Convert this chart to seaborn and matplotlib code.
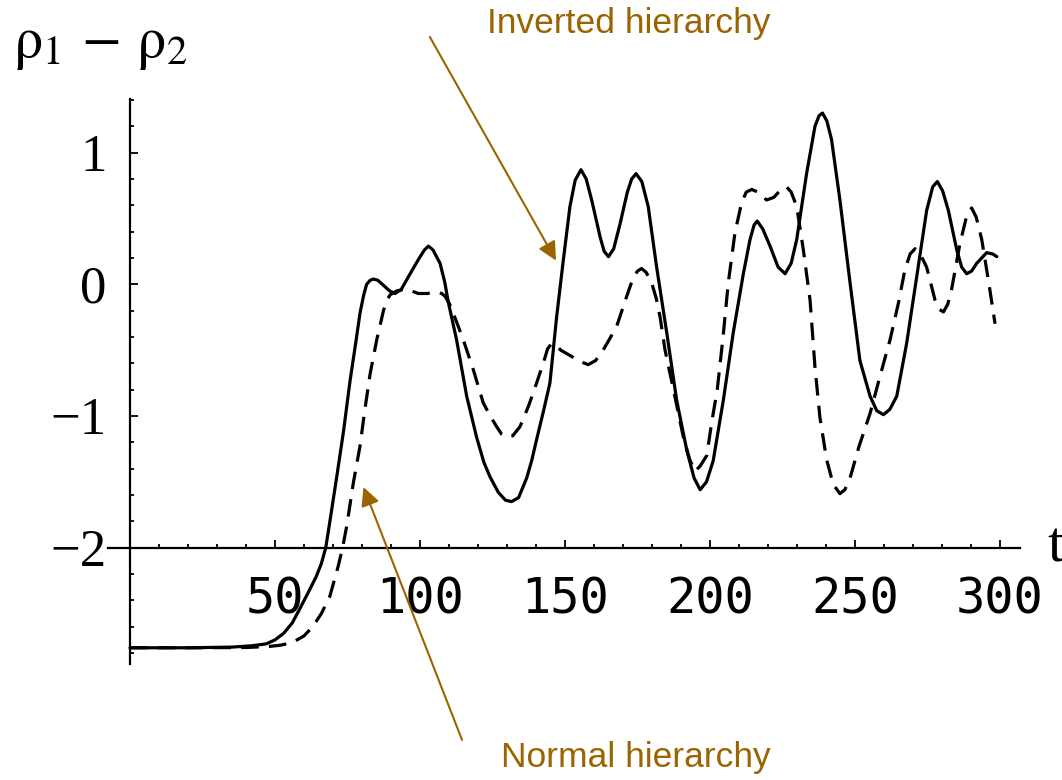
import numpy as np
import matplotlib
matplotlib.use("Agg")
import matplotlib.pyplot as plt
import seaborn as sns
from matplotlib.ticker import FixedLocator

# inverted hierarchy (solid curve)
t_inv = [0, 20, 35, 42, 47, 50, 53, 56, 58.4, 61, 64.2, 66, 67.5, 69, 71.3, 73.6, 75.9,
         77.8, 79.3, 80.6, 81.6, 82.8, 83.9, 85.5, 87.5, 89.5, 91.4, 93.5, 96.6, 99.5,
         101.5, 102.9, 104.5, 106.9, 108.5, 109.8, 112.6, 116.1, 119.5, 122, 124.1, 127,
         129.5, 131.6, 134, 136.8, 138.5, 140.2, 142.5, 144.8, 147.1, 149.4, 151.7, 153.5,
         155.5, 157.3, 159.2, 162.1, 163.5, 165, 166.8, 169, 171.5, 173, 174.5, 176.5,
         178.7, 181.6, 185.1, 188.5, 192, 194.5, 196.6, 198.8, 201.1, 204.6, 208, 211.5,
         213.8, 215.2, 216.3, 218.2, 220.7, 223.5, 225.9, 228, 229.9, 233.3, 236.2, 237.6,
         238.8, 240.3, 241.9, 244.8, 248.3, 251.7, 255.2, 257.5, 259.8, 262, 264.4, 267.8,
         271.3, 274.7, 276.8, 278.4, 280.2, 282.2, 285.1, 286.8, 288.5, 290.2, 292, 295.4,
         297.5, 298.9]
y_inv = [-2.76, -2.76, -2.755, -2.745, -2.73, -2.70, -2.65, -2.57, -2.47, -2.36, -2.22,
         -2.12, -2.0, -1.79, -1.46, -1.12, -0.73, -0.45, -0.22, -0.08, 0.0, 0.03, 0.04,
         0.03, -0.01, -0.05, -0.07, -0.04, 0.08, 0.19, 0.26, 0.29, 0.26, 0.16, 0.02, -0.14,
         -0.42, -0.85, -1.16, -1.35, -1.46, -1.58, -1.64, -1.65, -1.62, -1.47, -1.34, -1.18,
         -0.97, -0.75, -0.25, 0.18, 0.59, 0.79, 0.87, 0.80, 0.64, 0.36, 0.25, 0.21, 0.27,
         0.46, 0.70, 0.80, 0.84, 0.78, 0.59, 0.13, -0.37, -0.88, -1.26, -1.47, -1.56, -1.50,
         -1.34, -0.88, -0.37, 0.08, 0.34, 0.45, 0.48, 0.42, 0.29, 0.13, 0.08, 0.16, 0.34,
         0.84, 1.20, 1.28, 1.30, 1.24, 1.10, 0.64, 0.01, -0.58, -0.85, -0.96, -0.99, -0.95,
         -0.85, -0.45, 0.06, 0.56, 0.74, 0.78, 0.71, 0.56, 0.26, 0.13, 0.08, 0.10, 0.16,
         0.24, 0.23, 0.21]

# normal hierarchy (dashed curve)
t_norm = [0, 20, 40, 48, 52, 56, 60, 63, 66, 68.9, 71.8, 73.3, 74.7, 77, 79.3, 81, 82.8,
          85.1, 87.4, 88.6, 89.7, 92, 94.3, 97, 99.4, 102.5, 105.7, 107.5, 108.6, 110.2,
          112, 114.9, 118.4, 121.8, 124.2, 126.4, 128.2, 129.9, 132, 134.5, 137.5, 140.2,
          142.5, 144, 145.4, 146.8, 148.5, 151.7, 154.5, 158, 160.5, 162.6, 165, 167.8,
          171.3, 173.5, 175, 176.4, 178, 179.9, 181.5, 182.8, 184.5, 187.4, 190.8, 193,
          194.8, 196.6, 198.9, 200.5, 202.5, 204.5, 206.3, 208.6, 210.9, 212.5, 214.4,
          216.5, 219.5, 222, 224.5, 226.4, 228, 229.9, 232.2, 234.5, 236.2, 237.9, 240.2,
          242.5, 244.8, 246.5, 248.3, 251.4, 255.2, 258.6, 262.1, 265, 267.2, 269, 270.7,
          272.5, 274.7, 277.6, 279, 280.5, 282, 283.3, 286.2, 288.3, 290.2, 291.8, 293.7,
          296, 298.3]
y_norm = [-2.76, -2.76, -2.758, -2.75, -2.74, -2.72, -2.67, -2.60, -2.50, -2.37, -2.14,
          -2.0, -1.84, -1.51, -1.23, -0.95, -0.68, -0.42, -0.20, -0.12, -0.08, -0.05,
          -0.04, -0.05, -0.07, -0.07, -0.06, -0.07, -0.09, -0.15, -0.25, -0.42, -0.65,
          -0.90, -1.0, -1.08, -1.14, -1.16, -1.15, -1.08, -0.92, -0.75, -0.6, -0.49, -0.45,
          -0.46, -0.50, -0.54, -0.58, -0.61, -0.58, -0.52, -0.43, -0.32, -0.09, 0.05, 0.10,
          0.12, 0.09, 0.01, -0.11, -0.25, -0.50, -0.80, -1.16, -1.33, -1.42, -1.38, -1.30,
          -1.06, -0.80, -0.40, 0.01, 0.39, 0.62, 0.70, 0.72, 0.70, 0.64, 0.66, 0.72, 0.74,
          0.70, 0.59, 0.26, -0.12, -0.63, -1.01, -1.33, -1.52, -1.59, -1.56, -1.47, -1.23,
          -0.98, -0.70, -0.42, -0.14, 0.11, 0.23, 0.27, 0.23, 0.13, -0.12, -0.19, -0.21,
          -0.15, -0.04, 0.31, 0.50, 0.58, 0.51, 0.34, 0.03, -0.30]

x_major = [50, 100, 150, 200, 250, 300]
x_labels = ["50", "100", "150", "200", "250", "300"]
y_major = [-2, -1, 0, 1]
y_labels = ["\u22122", "\u22121", "0", "1"]

gold = "#9a6400"

sns.set_style("white")
plt.rcParams["mathtext.fontset"] = "stix"
fig = plt.figure(figsize=(10.62, 7.8), dpi=100)
ax = fig.add_axes([101 / 1062, 0.129, (1058 - 101) / 1062, 0.7598])

sns.lineplot(x=t_inv, y=y_inv, ax=ax, color="black", lw=2.3, sort=False, estimator=None)
sns.lineplot(x=t_norm, y=y_norm, ax=ax, color="black", lw=2.3, sort=False, estimator=None,
             linestyle=(0, (5.5, 3.2)))

ax.set_xlim(-10, 320)
ax.set_ylim(-3.0, 1.5)

for s in ["top", "right"]:
    ax.spines[s].set_visible(False)
ax.spines["left"].set_position(("data", 0))
ax.spines["bottom"].set_position(("data", -2))
ax.spines["left"].set_bounds(-2.88, 1.41)
ax.spines["bottom"].set_bounds(-7.6, 307)
for s in ["left", "bottom"]:
    ax.spines[s].set_linewidth(1.6)
    ax.spines[s].set_color("black")

ax.xaxis.set_major_locator(FixedLocator(x_major))
ax.xaxis.set_minor_locator(FixedLocator(np.arange(10, 301, 10)))
ax.set_xticklabels(x_labels, fontfamily="DejaVu Sans Mono", fontsize=35, color="black")
ax.yaxis.set_major_locator(FixedLocator(y_major))
ax.yaxis.set_minor_locator(FixedLocator(np.round(np.arange(-2.8, 1.41, 0.2), 1)))
ax.set_yticklabels(y_labels, fontfamily="Liberation Serif", fontsize=38, color="black")

ax.tick_params(which="both", bottom=True, left=True, colors="black")
ax.tick_params(axis="x", which="major", direction="in", length=5.5, width=1.3, pad=20)
ax.tick_params(axis="x", which="minor", direction="in", length=3, width=1.3)
ax.tick_params(axis="y", which="major", direction="in", length=5.5, width=1.3, pad=17)
ax.tick_params(axis="y", which="minor", direction="in", length=3, width=1.3)
ax.set_xlabel("")
ax.set_ylabel("")

fig.text(0.012, 0.944, r"$\mathrm{\rho_1\,-\,\rho_2}$", fontsize=42, va="center", ha="left",
         color="black")
fig.text(1047 / 1062, 1 - 548 / 780, "t", fontfamily="Liberation Serif", fontsize=42,
         va="center", ha="left", color="black")

ax.annotate("", xy=(146.9, 0.18), xytext=(103.4, 1.878), annotation_clip=False,
            arrowprops=dict(arrowstyle="-|>", color=gold, lw=1.5, mutation_scale=28,
                            shrinkA=0, shrinkB=0))
ax.annotate("", xy=(80.5, -1.54), xytext=(114.5, -3.46), annotation_clip=False,
            arrowprops=dict(arrowstyle="-|>", color=gold, lw=1.5, mutation_scale=28,
                            shrinkA=0, shrinkB=0))
fig.text(629 / 1062, 1 - 23 / 780, "Inverted hierarchy", color=gold,
         fontfamily="Liberation Sans", fontsize=25.5, ha="center", va="center")
fig.text(636 / 1062, 1 - 758 / 780, "Normal hierarchy", color=gold,
         fontfamily="Liberation Sans", fontsize=25.5, ha="center", va="center")

fig.savefig("out.png", dpi=100)
